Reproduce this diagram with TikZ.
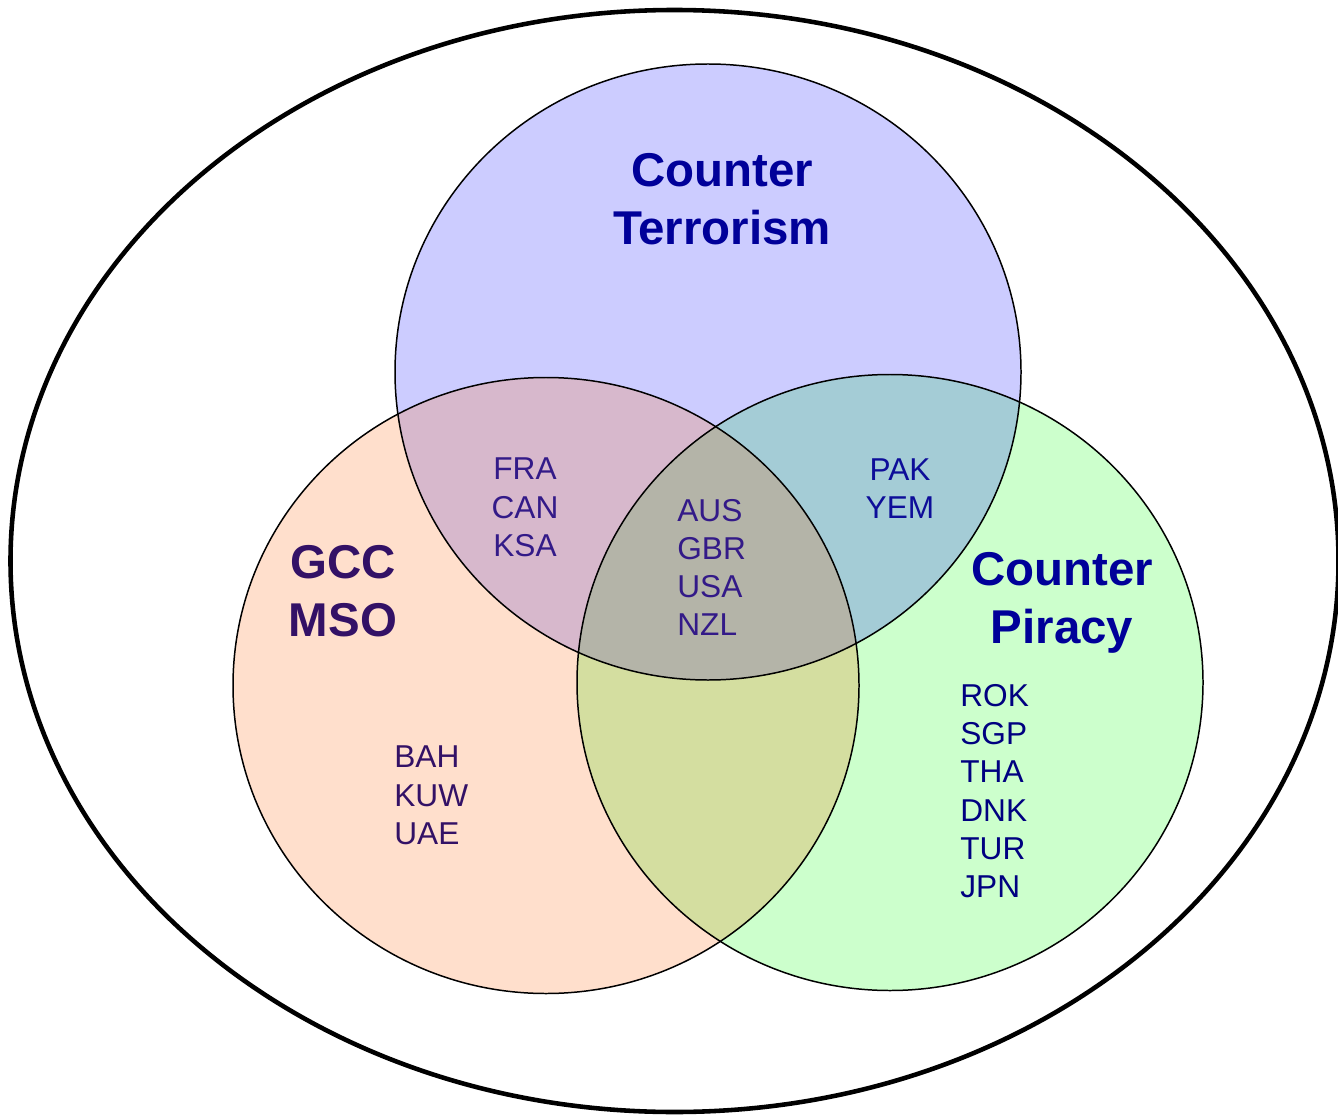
\documentclass[tikz,border=0pt]{standalone}
\usepackage{fontspec}
\setmainfont{Liberation Sans}
\usepackage{xcolor}
\definecolor{CtFill}{HTML}{CCCCFF}
\definecolor{GccFill}{HTML}{FFDFCC}
\definecolor{CpFill}{HTML}{CCFFCC}
\definecolor{CtGccFill}{HTML}{D7B8CC}
\definecolor{CtCpFill}{HTML}{A4CCD6}
\definecolor{GccCpFill}{HTML}{D4DEA0}
\definecolor{AllFill}{HTML}{B4B4A8}
\definecolor{TitleBlue}{HTML}{000099}
\definecolor{GccPurple}{HTML}{331166}
\definecolor{CodePurple}{HTML}{331A88}
\definecolor{CodeBlue}{HTML}{0D0D99}
\definecolor{CodeNavy}{HTML}{000080}
\tikzset{
  title/.style={font=\fontsize{27}{33}\selectfont\bfseries, align=center, inner sep=0pt},
  codes/.style={font=\fontsize{18}{21.8}\selectfont, inner sep=0pt},
  ring/.style={draw=black, line width=0.85pt},
  blob/.style={x radius=313, y radius=308},
}

\begin{document}
\begin{tikzpicture}[x=0.02cm,y=-0.02cm]
          \useasboundingbox (0,0) rectangle (1338,1118);
          \coordinate (ct) at (708,372);
          \coordinate (gcc) at (546,685.5);
          \coordinate (cp) at (890,682.5);
          % outer ellipse
          \draw[line width=2.6pt] (674.5,561) ellipse [x radius=664, y radius=551];
          % single fills
          \fill[CtFill] (ct) ellipse [blob];
          \fill[GccFill] (gcc) ellipse [blob];
          \fill[CpFill] (cp) ellipse [blob];
          % overlaps
          \begin{scope}
            \clip (ct) ellipse [blob];
            \fill[CtGccFill] (gcc) ellipse [blob];
            \fill[CtCpFill] (cp) ellipse [blob];
            \clip (gcc) ellipse [blob];
            \fill[AllFill] (cp) ellipse [blob];
          \end{scope}
          \begin{scope}
            \clip (gcc) ellipse [blob];
            \clip (cp) ellipse [blob];
            \fill[GccCpFill] (gcc) ellipse [blob];
            \clip (ct) ellipse [blob];
            \fill[AllFill] (gcc) ellipse [blob];
          \end{scope}
          \draw[ring] (ct) ellipse [blob];
          \draw[ring] (gcc) ellipse [blob];
          \draw[ring] (cp) ellipse [blob];
          % titles
          \node[title,text=TitleBlue] (cttitle) at (722,199) {Counter\\Terrorism};
          \node[title,text=GccPurple] (gcctitle) at (343,591) {GCC\\MSO};
          \node[title,text=TitleBlue] (cptitle) at (1062,603) {Counter\\Piracy};
          % members
          \node[codes,align=center,text=CodePurple] (ctgcc) at (525,507.5) {FRA\\CAN\\KSA};
          \node[codes,align=left,anchor=west,text=CodePurple] (allthree) at (677,567.5) {AUS\\GBR\\USA\\NZL};
          \node[codes,align=center,text=CodeBlue] (ctcp) at (900,488.5) {PAK\\YEM};
          \node[codes,align=left,anchor=west,text=CodeNavy] (cponly) at (960,791) {ROK\\SGP\\THA\\DNK\\TUR\\JPN};
          \node[codes,align=left,anchor=west,text=GccPurple] (gcconly) at (394,795.5) {BAH\\KUW\\UAE};
        \end{tikzpicture}
\end{document}
